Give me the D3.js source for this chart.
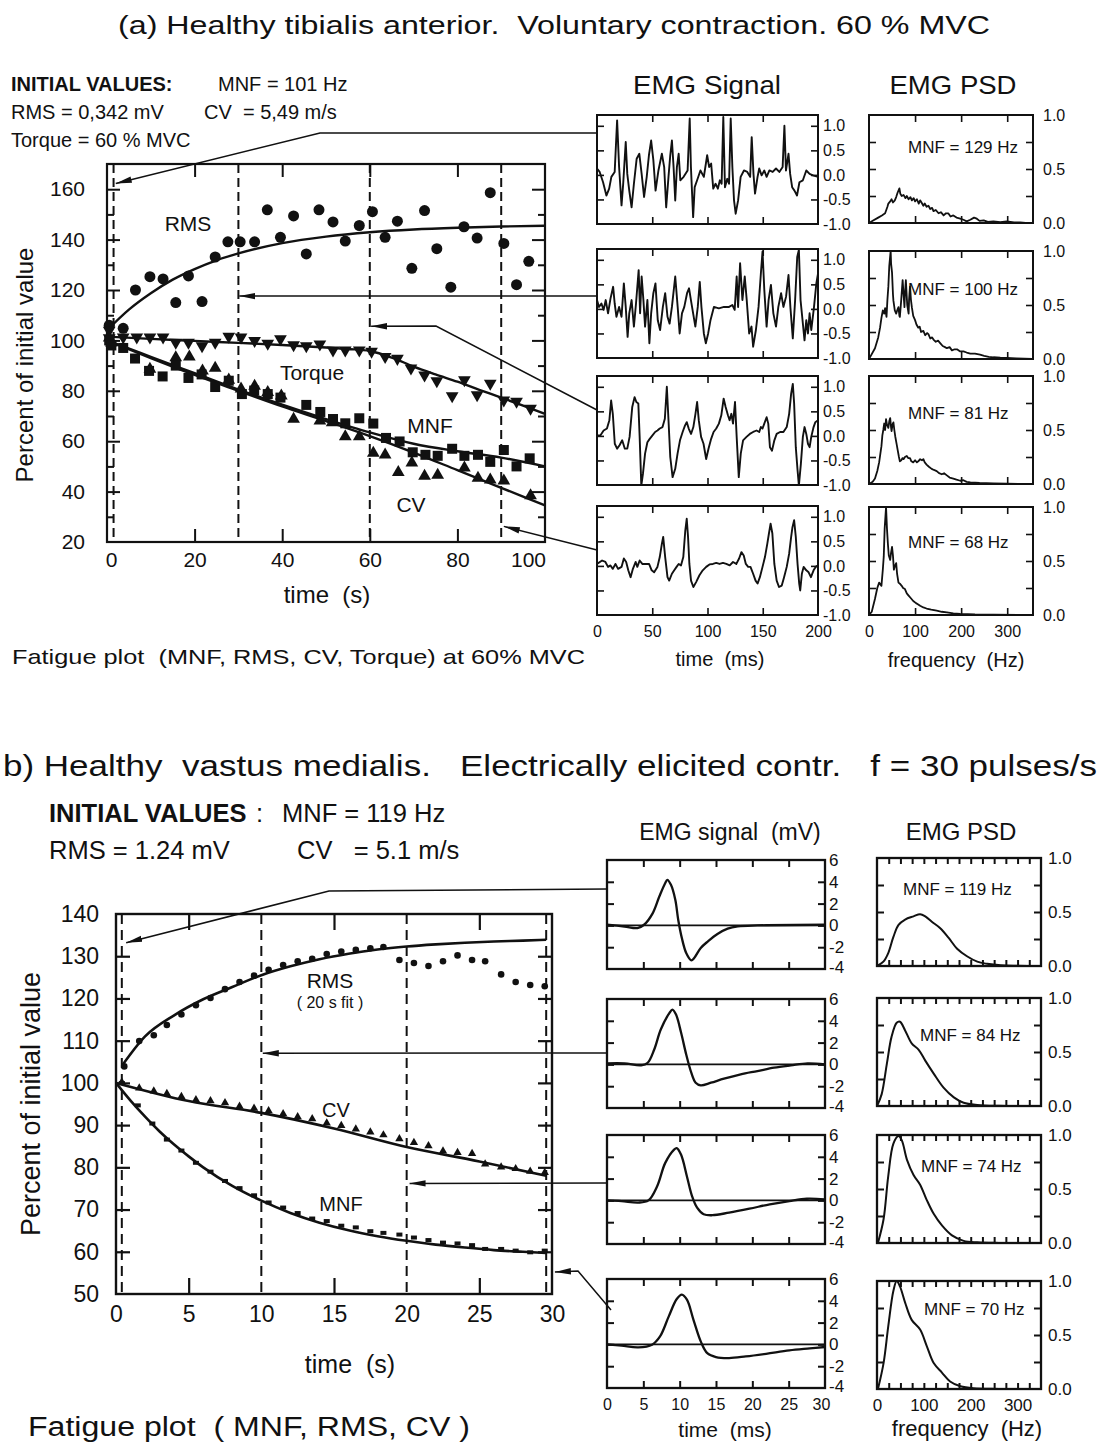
<!DOCTYPE html>
<html><head><meta charset="utf-8">
<script src="https://cdn.jsdelivr.net/npm/d3@7"></script>
<style>
body{margin:0;background:#fff;}
svg text{font-family:"Liberation Sans",Arial,Helvetica,sans-serif;fill:#111;white-space:pre;}
</style></head><body>
<svg id="c" width="1102" height="1446" xmlns="http://www.w3.org/2000/svg"></svg>
<script>
// ================= DATA : panel (a) fatigue plot =================
const aXTicks = [0, 20, 40, 60, 80, 100];
const aYTicks = [20, 40, 60, 80, 100, 120, 140, 160];
const aYMinor = [30, 50, 70, 90, 110, 130, 150];
const aEpochs = [1.5, 30, 60, 90];
const aRms = [[0.5,106],[3.7,104.8],[6.5,120],[9.8,125.3],[12.8,124.4],[15.7,115],[18.6,125.6],[21.7,115.4],[24.7,133.1],[27.6,139.1],[30.4,139.1],[33.7,139.1],[36.6,151.8],[39.6,140.9],[42.6,149.4],[45.5,134.3],[48.4,151.8],[51.6,147],[54.4,139.4],[57.6,145.6],[60.6,151.1],[63.5,140.9],[66.3,147.3],[69.6,128.6],[72.5,151.5],[75.3,136.4],[78.5,121.1],[81.5,145.1],[84.5,140.6],[87.5,158.6],[90.6,138.5],[93.5,122.1],[96.3,131.4]];
const aRmsFit = [[0,104],[5,112.2],[10,118.7],[15,124.1],[20,128.3],[25,131.8],[30,134.5],[40,138.6],[50,141.2],[60,142.9],[70,144],[80,144.7],[90,145.2],[100,145.5]];
const aTorque = [[0.5,104],[0.5,101],[3.7,101.3],[6.8,101.3],[9.8,101.3],[12.8,101.3],[15.7,99.2],[18.6,99.2],[21.7,97.8],[24.7,99.2],[27.8,101.6],[30.6,101.3],[33.7,99.9],[36.7,98.8],[39.6,100.6],[42.6,98.2],[45.5,97.8],[48.6,98.5],[51.6,96.1],[54.4,96.1],[57.6,96.1],[60.4,95.6],[63.5,93.5],[66.3,92.8],[69.4,89.0],[72.5,86.2],[75.3,83.9],[78.8,78.0],[81.6,84.3],[84.5,78.4],[87.5,82.9],[90.6,76.3],[93.5,75.8],[96.7,73.0]];
const aTorqueFit = [[0,101.5],[10,100.6],[20,99.8],[30,99],[40,98.2],[50,97.2],[55,96.6],[60,95.8],[65,93.2],[70,89.6],[75,86.5],[80,83.6],[85,80.4],[90,77.3],[95,74.1],[100,70.8]];
const aMnf = [[0.5,100],[1,98],[3.7,97],[6.4,92.8],[9.6,87.9],[12.7,85.7],[15.7,90],[18.6,85.1],[21.6,86.5],[24.7,81.5],[27.8,84.0],[30.8,78.7],[33.6,80.1],[36.7,78.7],[39.6,77.3],[45.5,74.4],[48.7,71.6],[51.6,68.8],[54.4,67.1],[57.6,69.1],[60.8,67.0],[63.7,61.3],[66.8,59.9],[69.8,55.6],[72.7,54.6],[75.5,54.2],[78.8,57.0],[81.6,54.2],[84.7,54.6],[87.5,51.8],[90.6,56.5],[93.5,50.0],[96.5,53.2]];
const aMnfFit = [[0,100],[10,93.5],[20,87],[30,80.5],[40,74.5],[50,68.8],[60,63.5],[70,59],[80,56],[90,53.5],[100,50]];
const aCv = [[0.5,101],[1,99],[9.8,88.6],[15.7,93.2],[18.8,93.5],[21.8,87.9],[24.7,89],[27.8,84.3],[30.6,80.8],[33.7,81.9],[36.7,79.4],[39.8,78.0],[42.6,68.8],[48.6,68.1],[51.4,67.4],[54.4,61.8],[57.6,61.8],[60.8,55.3],[63.5,54.6],[66.5,47.6],[69.6,51.4],[72.5,46.2],[75.5,46.6],[81.6,49.4],[84.7,45.4],[87.5,44.7],[90.6,44.3],[96.7,38.4]];
const aCvFit = [[0,100],[10,93],[20,86.3],[30,80],[40,73.8],[50,68],[60,62],[70,55.5],[80,48.5],[90,41.5],[100,34.5]];

// ================= DATA : panel (a) EMG signals (normalised) =================
const aSigXTicks = [0, 50, 100, 150, 200];
const aSigYTicks = [-1, -0.5, 0, 0.5, 1];
const aSig1 = [[0,0.13],[2.4,0.06],[5.5,-0.15],[8.5,-0.42],[11,-0.28],[13,-0.04],[16,0.06],[18.2,1.11],[20,0.16],[22.2,-0.62],[23.7,-0.18],[26,0.67],[27.4,0.02],[29.2,-0.32],[31.3,-0.66],[33.4,-0.18],[35.9,0.33],[38.3,0.43],[40.4,0.02],[42.6,-0.45],[45,-0.04],[47,0.4],[49,0.7],[51,0.3],[53,-0.32],[55.6,0.09],[58.7,0.43],[60.8,0.16],[62.6,-0.66],[64.7,-0.04],[66.3,0.4],[67.8,0.7],[69.3,0.16],[70.8,-0.52],[72.3,0.16],[73.9,0.43],[75.4,-0.11],[78.4,-0.04],[82,0.09],[83.9,1.15],[85,0.16],[87,-0.86],[88.4,-0.25],[90.6,-0.11],[93.6,0.09],[96.7,-0.04],[99.7,0.4],[101.5,0.16],[103.3,0.23],[105.2,-0.28],[107.3,-0.18],[109.4,-0.28],[111.2,-0.11],[112.8,-0.18],[114.3,1.18],[115.8,-0.25],[117.9,-0.08],[119.5,-0.18],[121,1.15],[122.5,0.16],[124,-0.52],[125.5,-0.79],[127.7,-0.52],[130,-0.04],[133,0.09],[136,0.06],[138.6,-0.04],[140,0.77],[141.6,0.02],[143,-0.38],[145.3,-0.04],[146.8,0.13],[149,-0.01],[151.4,0.09],[153.5,-0.04],[156,0.09],[159,0.06],[162,0.13],[165,0.06],[168,0.16],[169.6,1.0],[171,0.09],[173.3,0.43],[174.8,0.02],[176.6,-0.25],[178.7,-0.32],[181,-0.42],[183.2,-0.15],[186.3,-0.11],[189.4,0.09],[192.4,0.02],[195.4,-0.01],[200,-0.04]];
const aSig2 = [[0,0.18],[1.8,0.04],[4,0.11],[6,-0.02],[7.9,0.18],[10,-0.09],[12.2,0.21],[14.6,0.45],[16,0.11],[17.6,-0.16],[20,0.04],[22.2,-0.16],[24.3,0.52],[26,0.04],[27.7,-0.57],[29.2,-0.09],[31.3,0.18],[33.4,-0.36],[35.3,0.11],[37.7,0.79],[39,-0.09],[40.4,0.66],[42,0.18],[43.5,-0.36],[45.6,0.18],[47.4,-0.7],[49,-0.09],[51,0.32],[52.9,0.52],[55,-0.23],[57.1,-0.43],[59.6,0.04],[61.7,0.32],[63.8,-0.16],[65.7,-0.3],[67.8,0.04],[70.8,0.66],[73,0.04],[74.8,-0.5],[76.9,-0.09],[79,0.04],[81.5,0.32],[83.3,0.42],[85,0.18],[87,-0.09],[89,-0.36],[91.2,0.04],[93,0.55],[94.5,0.04],[96.7,-0.5],[98.5,-0.7],[100.6,-0.5],[102.7,-0.23],[105.8,0.04],[110.3,0.01],[114.9,0.04],[119.5,0.04],[122.5,0.08],[124.6,-0.02],[126.4,0.66],[127.7,0.04],[129.5,0.93],[131.6,0.18],[133.7,0.66],[135.5,0.18],[137.7,-0.5],[139.8,-0.36],[141.3,-0.77],[143.8,-0.43],[146.2,0.04],[148.3,0.72],[149.8,1.17],[151.4,0.39],[153.5,-0.36],[155.3,0.18],[157.4,0.49],[159.6,-0.09],[162,-0.36],[164.1,0.04],[166.6,0.32],[168.7,0.04],[171.1,0.25],[173.3,0.69],[175,0.04],[177.2,-0.6],[179.3,0.18],[181.2,1.06],[182.7,1.2],[184.2,0.18],[185.7,-0.16],[187.8,-0.64],[189.4,-0.23],[190.9,-0.5],[192.4,-0.09],[193.9,-0.43],[196.4,0.04],[198.5,0.52],[200,0.72]];
const aSig3 = [[0,0.01],[3,0.01],[6,0.11],[9,0.15],[11.2,0.32],[12.8,0.72],[14.3,0.45],[16.1,-0.16],[18.2,-0.26],[20.4,-0.19],[22.8,-0.09],[25.2,-0.26],[27.4,-0.26],[29.5,-0.02],[31.9,0.59],[34,0.79],[35.6,0.69],[37.4,0.66],[38.6,-0.02],[40.1,-1.01],[41.6,-0.77],[43.5,-0.36],[45.6,-0.13],[47.7,-0.06],[50.2,0.01],[52.6,0.08],[54.7,0.11],[56.8,0.15],[59.3,0.18],[61.4,0.35],[63.2,1.0],[64.7,0.32],[66.3,-0.43],[68.4,-0.84],[70.8,-0.67],[72.9,-0.36],[75.1,-0.09],[77.5,0.08],[79.6,0.21],[81.2,0.28],[83,0.15],[85.1,0.04],[87.2,0.18],[89.1,0.45],[90.6,0.69],[92.1,0.32],[94.2,-0.02],[96.4,-0.16],[98.8,-0.47],[100.9,-0.26],[103.3,-0.06],[105.5,0.08],[107.9,0.15],[110.3,0.25],[112.5,0.42],[114.6,0.76],[116.4,0.59],[118.5,0.42],[120,0.32],[121.6,0.45],[123.1,0.25],[124.9,0.69],[126.4,-0.02],[128.3,-0.84],[130.1,-0.36],[132.2,-0.09],[135.3,-0.02],[138.3,0.04],[141.3,0.08],[144.4,0.11],[146.8,0.08],[148.3,0.18],[149.8,0.15],[151.4,0.25],[153.5,0.38],[155,0.25],[156.5,-0.23],[158.4,-0.3],[160.5,-0.09],[162.6,0.04],[165.7,0.08],[168.7,0.08],[171.7,0.18],[173.9,0.45],[175.7,0.86],[177.2,1.06],[178.4,0.66],[179.9,-0.23],[181.5,-0.7],[182.7,-1.01],[184.5,-0.57],[186.3,-0.02],[187.8,0.18],[189.4,0.04],[190.9,-0.16],[192.4,-0.23],[193.9,-0.02],[196,0.18],[197.6,0.28],[200,0.32]];
const aSig4 = [[0,0.04],[4.6,0.11],[7.6,0.08],[10,-0.02],[12.2,0.01],[14.3,-0.06],[16.7,0.04],[19.1,-0.06],[22.2,-0.02],[24.3,0.15],[26.4,0.08],[28.3,-0.09],[30.4,-0.23],[32.5,-0.06],[35,0.08],[36.5,-0.02],[38.6,0.11],[41,0.04],[44,0.04],[47.1,0.04],[49.5,-0.09],[51.7,-0.13],[54.7,-0.02],[56.8,0.18],[58.7,0.45],[59.9,0.59],[61.7,0.18],[63.8,-0.23],[65.3,-0.3],[67.8,-0.16],[69.9,-0.09],[72,-0.02],[73.9,0.04],[76,0.01],[78.1,0.18],[79.9,0.72],[81.2,0.96],[82.4,0.59],[83.6,0.04],[85.1,-0.3],[87.2,-0.43],[89.7,-0.33],[92.7,-0.19],[95.7,-0.09],[98.8,-0.02],[101.8,0.03],[104.9,0.04],[107.9,0.06],[110.9,0.04],[114,0.06],[117,0.04],[120.1,0.01],[123.1,0.08],[126.1,0.04],[128.6,0.15],[130.7,0.28],[132.8,0.21],[134.7,0.04],[136.8,-0.02],[138.9,-0.02],[141.3,-0.16],[143.5,-0.3],[145.3,-0.36],[147.4,-0.23],[149.8,-0.02],[152,0.18],[154.1,0.45],[155.6,0.66],[157.1,0.86],[158.7,0.66],[160.5,0.04],[162.6,-0.3],[164.7,-0.43],[167.2,-0.4],[169.3,-0.23],[171.7,-0.02],[173.9,0.25],[175.7,0.59],[176.9,0.79],[178.4,0.93],[179.9,0.59],[181.5,0.04],[183,-0.36],[183.9,-0.5],[185.4,-0.16],[187,-0.02],[189.4,-0.09],[191.5,-0.13],[193.6,-0.23],[196,-0.09],[197.9,-0.02],[200,0.01]];

// ================= DATA : panel (a) PSD =================
const aPsdXTicks = [0, 100, 200, 300];
const aPsdYTicks = [0, 0.5, 1];
const aPsdMnf = ["MNF = 129 Hz", "MNF = 100 Hz", "MNF = 81 Hz", "MNF = 68 Hz"];
const aPsd1 = [[0,0],[8,0.02],[20,0.05],[28,0.07],[35,0.09],[40,0.15],[42,0.18],[46,0.2],[49,0.22],[52,0.19],[56,0.21],[59,0.24],[62,0.28],[66,0.32],[68,0.27],[71,0.25],[75,0.26],[79,0.23],[82,0.25],[86,0.22],[90,0.24],[93,0.21],[97,0.23],[100,0.2],[104,0.22],[108,0.18],[111,0.21],[114,0.19],[118,0.16],[121,0.18],[125,0.15],[129,0.16],[133,0.13],[137,0.14],[140,0.11],[145,0.12],[151,0.09],[156,0.1],[162,0.07],[167,0.09],[172,0.09],[177,0.06],[183,0.07],[190,0.05],[198,0.04],[205,0.03],[212,0.015],[220,0.03],[228,0.05],[234,0.04],[240,0.02],[249,0.025],[258,0.01],[270,0.015],[285,0.008],[299,0.015],[315,0.005],[328,0.006],[340,0.002],[354,0]];
const aPsd2 = [[0,0],[13,0.1],[20,0.2],[24,0.29],[27,0.38],[30,0.45],[33,0.42],[35,0.47],[38,0.39],[40,0.55],[42,0.67],[44,0.86],[47,1.0],[48,0.88],[50,0.8],[52,0.6],[53,0.54],[56,0.45],[59,0.42],[62,0.46],[64,0.48],[66,0.4],[67,0.39],[70,0.55],[73,0.73],[75,0.6],[77,0.48],[78,0.6],[80,0.73],[83,0.5],[86,0.42],[87,0.55],[89,0.67],[91,0.55],[93,0.48],[96,0.4],[100,0.36],[103,0.32],[107,0.29],[110,0.3],[113,0.25],[118,0.26],[122,0.22],[126,0.24],[129,0.23],[133,0.19],[137,0.2],[140,0.18],[145,0.16],[150,0.17],[154,0.15],[160,0.12],[165,0.11],[169,0.1],[175,0.11],[180,0.08],[186,0.09],[191,0.09],[198,0.07],[205,0.07],[212,0.06],[220,0.05],[230,0.05],[241,0.04],[250,0.03],[260,0.02],[270,0.016],[285,0.012],[299,0.01],[320,0.005],[354,0]];
const aPsd3 = [[0,0],[8,0.02],[13,0.05],[18,0.12],[22,0.2],[24,0.26],[27,0.35],[29,0.45],[31,0.5],[33,0.56],[35,0.5],[37,0.6],[39,0.55],[42,0.52],[44,0.58],[46,0.61],[48,0.52],[49,0.49],[51,0.55],[53,0.57],[55,0.5],[57,0.44],[60,0.37],[62,0.32],[65,0.25],[67,0.21],[70,0.22],[73,0.24],[75,0.23],[78,0.25],[82,0.26],[85,0.24],[89,0.24],[92,0.21],[96,0.2],[100,0.22],[104,0.2],[107,0.21],[111,0.23],[115,0.22],[118,0.23],[121,0.2],[125,0.18],[130,0.16],[136,0.14],[141,0.13],[147,0.12],[152,0.1],[158,0.09],[163,0.1],[169,0.08],[175,0.06],[183,0.05],[190,0.04],[198,0.03],[205,0.035],[212,0.02],[220,0.015],[240,0.01],[270,0.006],[300,0.003],[354,0]];
const aPsd4 = [[0,0],[6,0.03],[13,0.15],[18,0.25],[22,0.3],[25,0.28],[27,0.27],[30,0.42],[32,0.54],[34,0.8],[37,1.0],[39,0.8],[41,0.66],[43,0.55],[46,0.51],[48,0.58],[50,0.63],[52,0.55],[54,0.42],[56,0.45],[59,0.48],[61,0.38],[64,0.3],[67,0.29],[71,0.27],[74,0.25],[78,0.24],[82,0.2],[86,0.18],[90,0.16],[96,0.13],[102,0.11],[106,0.1],[111,0.085],[118,0.07],[125,0.06],[135,0.05],[147,0.04],[158,0.03],[169,0.025],[183,0.015],[198,0.01],[230,0.005],[270,0.003],[354,0]];

// ================= DATA : panel (b) fatigue plot =================
const bXTicks = [0, 5, 10, 15, 20, 25, 30];
const bYTicks = [50, 60, 70, 80, 90, 100, 110, 120, 130, 140];
const bEpochs = [0.4, 10, 20, 29.6];
const bRms = [[0.57,103.9],[1.6,109.9],[2.6,111.3],[3.5,113.7],[4.5,116.2],[5.5,118.4],[6.5,120.1],[7.5,122.2],[8.5,123.9],[9.5,125.4],[10.5,126.8],[11.5,127.9],[12.5,128.8],[13.5,129.4],[14.5,130.5],[15.5,131.1],[16.5,131.5],[17.5,131.9],[18.4,132.2],[19.5,129.1],[20.5,128.4],[21.5,127.7],[22.5,128.8],[23.5,130.2],[24.5,129.1],[25.4,128.8],[26.5,125.7],[27.5,123.9],[28.5,123.2],[29.5,122.9]];
const bRmsFit = [[0.4,104],[2,111],[4,116],[6,119.8],[8,122.7],[10,125.5],[12,127.6],[14,129.3],[16,130.6],[18,131.6],[20,132.3],[22,132.8],[24,133.2],[26,133.5],[28,133.7],[29.6,133.9]];
const bCv = [[0.4,99.7],[1.6,98.3],[2.6,97.6],[3.5,97.0],[4.5,96.3],[5.5,95.5],[6.5,95.3],[7.5,94.8],[8.5,94.0],[9.5,93.5],[10.5,92.9],[11.5,92.2],[12.5,91.5],[13.5,91.0],[14.5,90.0],[15.5,89.4],[16.5,88.6],[17.5,87.9],[18.4,87.2],[19.5,86.3],[20.5,85.4],[21.5,84.6],[22.5,83.4],[23.5,83.0],[24.5,82.8],[25.4,80.3],[26.5,79.6],[27.5,79.2],[28.5,78.6],[29.5,78.3]];
const bCvFit = [[0,100],[5,95.7],[10,92.9],[15,89.2],[20,84.8],[25,81.4],[29.6,78]];
const bMnf = [[0.4,99.5],[1.5,94.2],[2.5,89.9],[3.5,86.1],[4.5,83.5],[5.5,80.6],[6.5,78.5],[7.5,76.3],[8.5,74.6],[9.5,72.9],[10.5,71.2],[11.5,70],[12.5,68.7],[13.5,67.4],[14.5,66.8],[15.5,65.7],[16.5,65.3],[17.5,64.4],[18.4,64],[19.5,63.6],[20.5,62.9],[21.5,62.3],[22.5,61.7],[23.5,61.5],[24.5,61.1],[25.4,60.2],[26.5,60.2],[27.5,59.8],[28.5,59.4],[29.5,59.8]];
const bMnfFit = [[0,100],[1,95.8],[2,92],[3,88.5],[4,85.4],[5,82.6],[6,80],[8,75.6],[10,72.1],[12,69.2],[14,66.9],[16,65.1],[18,63.7],[20,62.6],[22,61.7],[24,61],[26,60.4],[28,60],[29.6,59.7]];

// ================= DATA : panel (b) EMG signals (mV) =================
const bSigXTicks = [0, 5, 10, 15, 20, 25, 30];
const bSigYTicks = [-4, -2, 0, 2, 4, 6];
const bSig1 = [[0,0.06],[2.4,-0.1],[4.2,-0.24],[5.1,0.06],[6.3,1.13],[7.2,2.65],[8,3.87],[8.3,4.18],[8.8,3.72],[9.4,2.35],[9.8,0.52],[10.3,-1.16],[10.9,-2.53],[11.6,-3.2],[12,-2.99],[12.9,-2.07],[13.9,-1.46],[15.2,-0.79],[16.6,-0.3],[18,-0.09],[20.7,0],[30,0.06]];
const bSig2 = [[0,0.09],[2.4,0.09],[4.7,-0.09],[5.6,0.15],[6.5,1.37],[7.4,3.2],[8.6,4.73],[9,5.03],[9.5,4.57],[10.2,2.9],[10.9,0.91],[11.6,-0.76],[12.2,-1.68],[12.9,-1.92],[14.3,-1.68],[16.1,-1.31],[18.4,-0.91],[20.7,-0.61],[23,-0.3],[25.3,-0.09],[27.6,0.09],[30,0]];
const bSig3 = [[0,0],[2,-0.06],[4.3,-0.2],[5.7,0],[6.9,1.3],[8,3.42],[9.2,4.64],[9.6,4.8],[10.2,4.18],[11,2.2],[11.7,0.4],[12.4,-0.67],[13.3,-1.27],[14.5,-1.36],[16.8,-1.12],[19.6,-0.76],[22.4,-0.36],[25.1,-0.06],[27.5,0.15],[30,0.09]];
const bSig4 = [[0,0],[2,-0.12],[4.3,-0.28],[6.2,-0.03],[7.3,0.73],[8.5,2.57],[9.6,4.16],[10.3,4.56],[11,4.1],[11.9,2.26],[12.9,0.28],[13.8,-0.8],[15,-1.16],[16.8,-1.25],[19.1,-1.1],[21.9,-0.86],[25.1,-0.55],[27.9,-0.37],[30,-0.24]];

// ================= DATA : panel (b) PSD =================
const bPsdXTicks = [0, 100, 200, 300];
const bPsdMinor = [25, 50, 75, 100, 125, 150, 175, 200, 225, 250, 275, 300, 325];
const bPsdMnf = ["MNF = 119 Hz", "MNF = 84 Hz", "MNF = 74 Hz", "MNF = 70 Hz"];
const bPsd1 = [[0,0],[13.6,0.04],[24,0.12],[35,0.27],[46,0.38],[60,0.43],[78,0.46],[92,0.48],[103,0.46],[117,0.41],[135,0.35],[153,0.26],[171,0.16],[192,0.09],[214,0.04],[235,0.02],[264,0.006],[300,0.002],[348,0]];
const bPsd2 = [[0,0],[10,0.11],[21,0.39],[31,0.64],[42,0.77],[49,0.78],[60,0.7],[74,0.58],[89,0.52],[103,0.42],[121,0.3],[142,0.17],[164,0.08],[185,0.03],[214,0.01],[260,0.002],[348,0]];
const bPsd3 = [[2,0],[14,0.22],[24,0.62],[35,0.92],[46,0.99],[53,0.95],[64,0.77],[78,0.63],[92,0.54],[106,0.4],[121,0.27],[139,0.16],[160,0.07],[185,0.02],[214,0.006],[260,0.001],[350,0]];
const bPsd4 = [[2,0],[14,0.24],[24,0.58],[35,0.91],[42,1.0],[49,0.95],[60,0.8],[74,0.64],[92,0.55],[106,0.4],[121,0.24],[139,0.15],[156,0.07],[178,0.025],[206,0.006],[260,0.001],[350,0]];

// ================= DRAWING =================
const INK = "#111";
const fmt1 = d => d.toFixed(1);
const fmt0 = d => String(d);
const svg = d3.select("#c");
svg.append("rect").attr("width", 1102).attr("height", 1446).attr("fill", "#fff");
const defs = svg.append("defs");
defs.append("marker").attr("id", "ah").attr("viewBox", "0 0 16 8").attr("refX", 16).attr("refY", 4)
  .attr("markerWidth", 16).attr("markerHeight", 8).attr("orient", "auto").attr("markerUnits", "userSpaceOnUse")
  .append("path").attr("d", "M0,0.8 L16,4 L0,7.2 Z").attr("fill", INK);

function txt(x, y, s, size, opt = {}) {
  const t = svg.append("text").attr("x", x).attr("y", y).attr("font-size", size).text(s);
  if (opt.anchor) t.attr("text-anchor", opt.anchor);
  if (opt.bold) t.attr("font-weight", "bold");
  if (opt.len) t.attr("textLength", opt.len).attr("lengthAdjust", "spacingAndGlyphs");
  if (opt.rot) t.attr("transform", `rotate(-90,${x},${y})`);
  return t;
}

function mkAxis(g, side, scale, at, values, len, opt = {}) {
  const f = { top: d3.axisTop, bottom: d3.axisBottom, left: d3.axisLeft, right: d3.axisRight }[side];
  const ax = f(scale).tickValues(values).tickSizeInner(-len).tickSizeOuter(0)
    .tickPadding(opt.pad ?? 4).tickFormat(opt.fmt || (() => ""));
  const horiz = side === "top" || side === "bottom";
  const gg = g.append("g").attr("transform", horiz ? `translate(0,${at})` : `translate(${at},0)`).call(ax);
  gg.select(".domain").remove();
  gg.selectAll(".tick line").attr("stroke", INK).attr("stroke-width", opt.sw || 1.6);
  gg.attr("font-size", opt.fs || 14);
  return gg;
}

function frame(g, x, y, w, h, sw) {
  g.append("rect").attr("x", x).attr("y", y).attr("width", w).attr("height", h)
    .attr("fill", "none").attr("stroke", INK).attr("stroke-width", sw || 2);
}

let clipN = 0;
function clipFor(x, y, w, h) {
  const id = "cl" + (clipN++);
  defs.append("clipPath").attr("id", id).append("rect").attr("x", x).attr("y", y).attr("width", w).attr("height", h);
  return `url(#${id})`;
}

function arrow(pts) {
  svg.append("path").attr("d", d3.line()(pts)).attr("fill", "none").attr("stroke", INK)
    .attr("stroke-width", 1.5).attr("marker-end", "url(#ah)");
}

// ---------- Panel (a) main ----------
txt(118, 34, "(a) Healthy tibialis anterior.  Voluntary contraction. 60 % MVC", 26, { len: 872 });
txt(11, 91, "INITIAL VALUES:", 20, { bold: true });
txt(218, 91, "MNF = 101 Hz", 20);
txt(11, 119, "RMS = 0,342 mV", 20);
txt(204, 119, "CV  = 5,49 m/s", 20);
txt(11, 147, "Torque = 60 % MVC", 20);

const A = { l: 107, t: 164, r: 545, b: 542 };
const xA = d3.scaleLinear().domain([0, 100]).range([A.l, A.r]);
const yA = d3.scaleLinear().domain([20, 170]).range([A.b, A.t]);
const gA = svg.append("g");
frame(gA, A.l, A.t, A.r - A.l, A.b - A.t, 2.2);
mkAxis(gA, "top", xA, A.t, aXTicks.slice(1, -1), 13, { sw: 2 });
const axAB = mkAxis(gA, "bottom", xA, A.b, aXTicks, 13, { sw: 2, fmt: fmt0, fs: 21, pad: 10 });
axAB.selectAll(".tick line").filter(d => d === 0 || d === 100).remove();
axAB.selectAll(".tick text").attr("dx", d => d === 0 ? 4 : d === 100 ? -17 : 0);
mkAxis(gA, "left", yA, A.l, aYTicks, 13, { sw: 2, fmt: fmt0, fs: 21, pad: 22 })
  .selectAll(".tick line").filter(d => d === 20).remove();
mkAxis(gA, "left", yA, A.l, aYMinor, 7, { sw: 2 });
mkAxis(gA, "right", yA, A.r, aYTicks.slice(1), 13, { sw: 2 });
mkAxis(gA, "right", yA, A.r, aYMinor, 7, { sw: 2 });
gA.selectAll(".ep").data(aEpochs).join("line")
  .attr("x1", d => xA(d)).attr("x2", d => xA(d)).attr("y1", A.t).attr("y2", A.b)
  .attr("stroke", INK).attr("stroke-width", 2).attr("stroke-dasharray", "9,5");
const lnA = d3.line().x(d => xA(d[0])).y(d => yA(d[1])).curve(d3.curveMonotoneX);
[aRmsFit, aTorqueFit, aMnfFit, aCvFit].forEach(s =>
  gA.append("path").attr("d", lnA(s)).attr("fill", "none").attr("stroke", INK).attr("stroke-width", 2.4));
gA.selectAll(".rms").data(aRms).join("circle").attr("cx", d => xA(d[0])).attr("cy", d => yA(d[1])).attr("r", 5.5).attr("fill", INK);
const triA = d3.symbol().type(d3.symbolTriangle).size(70);
gA.selectAll(".tq").data(aTorque).join("path").attr("d", triA)
  .attr("transform", d => `translate(${xA(d[0])},${yA(d[1])}) rotate(180)`).attr("fill", INK);
gA.selectAll(".cv").data(aCv).join("path").attr("d", triA)
  .attr("transform", d => `translate(${xA(d[0])},${yA(d[1])})`).attr("fill", INK);
gA.selectAll(".mnf").data(aMnf).join("rect").attr("x", d => xA(d[0]) - 5).attr("y", d => yA(d[1]) - 5)
  .attr("width", 10).attr("height", 10).attr("fill", INK);
txt(188, 231, "RMS", 21, { anchor: "middle" });
txt(312, 380, "Torque", 21, { anchor: "middle" });
txt(430, 433, "MNF", 21, { anchor: "middle" });
txt(411, 512, "CV", 21, { anchor: "middle" });
txt(33, 365, "Percent of initial value", 24, { anchor: "middle", rot: true });
txt(327, 603, "time  (s)", 24, { anchor: "middle" });
txt(12, 664, "Fatigue plot  (MNF, RMS, CV, Torque) at 60% MVC", 21, { len: 573 });

// ---------- Panel (a) EMG signals ----------
txt(707, 94, "EMG Signal", 25, { anchor: "middle", len: 148 });
const sigA = [aSig1, aSig2, aSig3, aSig4];
const sigATop = [115, 249, 376, 506];
sigA.forEach((s, i) => {
  const x0 = 597, w = 221, h = 109, y0 = sigATop[i];
  const x = d3.scaleLinear().domain([0, 200]).range([x0, x0 + w]);
  const y = d3.scaleLinear().domain([-1, 1.22]).range([y0 + h, y0]);
  const g = svg.append("g");
  g.append("path").attr("d", d3.line().x(d => x(d[0])).y(d => y(d[1]))(s))
    .attr("fill", "none").attr("stroke", INK).attr("stroke-width", 1.9).attr("stroke-linejoin", "round")
    .attr("clip-path", clipFor(x0, y0, w, h));
  frame(g, x0, y0, w, h, 2);
  mkAxis(g, "top", x, y0, [50, 100, 150], 7);
  const bx = mkAxis(g, "bottom", x, y0 + h, i === 3 ? aSigXTicks : [50, 100, 150], 7,
    i === 3 ? { fmt: fmt0, fs: 16, pad: 11 } : {});
  if (i === 3) bx.selectAll(".tick line").filter(d => d === 0 || d === 200).remove();
  mkAxis(g, "left", y, x0, [0.5, 0, -0.5, 1], 7);
  mkAxis(g, "right", y, x0 + w, [0.5, 0, -0.5, 1], 7);
  mkAxis(g, "right", y, x0 + w, aSigYTicks, 0, { fmt: fmt1, fs: 16, pad: 5 });
});
txt(720, 666, "time  (ms)", 20, { anchor: "middle" });

// ---------- Panel (a) PSD ----------
txt(953, 94, "EMG PSD", 25, { anchor: "middle", len: 127 });
const psdA = [aPsd1, aPsd2, aPsd3, aPsd4];
const psdATop = [115, 251, 376, 507];
const psdALab = [32, 38, 37, 35];
psdA.forEach((s, i) => {
  const x0 = 869, w = 164, h = 108, y0 = psdATop[i];
  const x = d3.scaleLinear().domain([0, 356]).range([x0, x0 + w]);
  const y = d3.scaleLinear().domain([0, 1]).range([y0 + h, y0]);
  const g = svg.append("g");
  g.append("path").attr("d", d3.line().x(d => x(d[0])).y(d => y(d[1]))(s))
    .attr("fill", "none").attr("stroke", INK).attr("stroke-width", 1.8).attr("stroke-linejoin", "round")
    .attr("clip-path", clipFor(x0, y0, w, h));
  frame(g, x0, y0, w, h, 2);
  mkAxis(g, "top", x, y0, [100, 200, 300], 7);
  mkAxis(g, "bottom", x, y0 + h, [100, 200, 300], 7);
  if (i === 3) mkAxis(g, "bottom", x, y0 + h, aPsdXTicks, 0, { fmt: fmt0, fs: 16, pad: 11 });
  mkAxis(g, "left", y, x0, [0.25, 0.5, 0.75], 7);
  mkAxis(g, "right", y, x0 + w, [0.25, 0.5, 0.75], 7);
  mkAxis(g, "right", y, x0 + w, aPsdYTicks, 0, { fmt: fmt1, fs: 16, pad: 10 });
  txt(x0 + 39, y0 + psdALab[i] + 6, aPsdMnf[i], 17);
});
txt(956, 667, "frequency  (Hz)", 20, { anchor: "middle" });

// ---------- arrows (a) ----------
arrow([[597, 133], [320, 133], [xA(2), yA(162.3)]]);
arrow([[597, 296], [xA(30.2), yA(117.6)]]);
arrow([[597, 410], [436, 326], [xA(60.3), yA(105.6)]]);
arrow([[597, 550], [xA(90.6), yA(26.2)]]);

// ---------- Panel (b) main ----------
txt(3, 776, "b) Healthy  vastus medialis.   Electrically elicited contr.   f = 30 pulses/s", 29, { len: 1094 });
txt(49, 822, "INITIAL VALUES", 25.5, { bold: true });
txt(256, 822, ":", 25.5);
txt(282, 822, "MNF = 119 Hz", 25.5);
txt(49, 859, "RMS = 1.24 mV", 25.5);
txt(297, 859, "CV   = 5.1 m/s", 25.5);

const B = { l: 116, t: 914, r: 552, b: 1294 };
const xB = d3.scaleLinear().domain([0, 30]).range([B.l, B.r]);
const yB = d3.scaleLinear().domain([50, 140]).range([B.b, B.t]);
const gB = svg.append("g");
frame(gB, B.l, B.t, B.r - B.l, B.b - B.t, 2.4);
mkAxis(gB, "top", xB, B.t, [5, 15, 25], 16, { sw: 2.2 });
mkAxis(gB, "bottom", xB, B.b, [5, 15, 25], 16, { sw: 2.2 });
mkAxis(gB, "bottom", xB, B.b, bXTicks, 0, { fmt: fmt0, fs: 23, pad: 12 });
mkAxis(gB, "left", yB, B.l, bYTicks.slice(1, -1), 14, { sw: 2.2 });
mkAxis(gB, "left", yB, B.l, bYTicks, 0, { fmt: fmt0, fs: 23, pad: 17 });
mkAxis(gB, "right", yB, B.r, bYTicks.slice(1, -1), 14, { sw: 2.2 });
gB.selectAll(".ep").data(bEpochs).join("line")
  .attr("x1", d => xB(d)).attr("x2", d => xB(d)).attr("y1", B.t).attr("y2", B.b)
  .attr("stroke", INK).attr("stroke-width", 2).attr("stroke-dasharray", "10,6");
const lnB = d3.line().x(d => xB(d[0])).y(d => yB(d[1])).curve(d3.curveMonotoneX);
[bRmsFit, bCvFit, bMnfFit].forEach(s =>
  gB.append("path").attr("d", lnB(s)).attr("fill", "none").attr("stroke", INK).attr("stroke-width", 2.6));
gB.selectAll(".rms").data(bRms).join("circle").attr("cx", d => xB(d[0])).attr("cy", d => yB(d[1])).attr("r", 3.3).attr("fill", INK);
const triB = d3.symbol().type(d3.symbolTriangle).size(30);
gB.selectAll(".cv").data(bCv).join("path").attr("d", triB)
  .attr("transform", d => `translate(${xB(d[0])},${yB(d[1]) - 2})`).attr("fill", INK);
gB.selectAll(".mnf").data(bMnf).join("rect").attr("x", d => xB(d[0]) - 3).attr("y", d => yB(d[1]) - 4)
  .attr("width", 6).attr("height", 4).attr("fill", INK);
txt(330, 988, "RMS", 21, { anchor: "middle" });
txt(330, 1008, "( 20 s fit )", 16, { anchor: "middle" });
txt(336, 1117, "CV", 20, { anchor: "middle" });
txt(341, 1211, "MNF", 20, { anchor: "middle" });
txt(40, 1104, "Percent of initial value", 27, { anchor: "middle", rot: true });
txt(350, 1373, "time  (s)", 25, { anchor: "middle" });
txt(28, 1436, "Fatigue plot  ( MNF, RMS, CV )", 27, { len: 442 });

// ---------- Panel (b) EMG signals ----------
txt(730, 840, "EMG signal  (mV)", 23, { anchor: "middle" });
const sigB = [bSig1, bSig2, bSig3, bSig4];
const sigBTop = [860, 999, 1135, 1279];
sigB.forEach((s, i) => {
  const x0 = 607, w = 218, h = 109, y0 = sigBTop[i];
  const x = d3.scaleLinear().domain([0, 30]).range([x0, x0 + w]);
  const y = d3.scaleLinear().domain([-4, 6]).range([y0 + h, y0]);
  const g = svg.append("g");
  g.append("line").attr("x1", x0).attr("x2", x0 + w).attr("y1", y(0)).attr("y2", y(0)).attr("stroke", INK).attr("stroke-width", 1.6);
  g.append("path").attr("d", d3.line().x(d => x(d[0])).y(d => y(d[1])).curve(d3.curveCatmullRom)(s))
    .attr("fill", "none").attr("stroke", INK).attr("stroke-width", 2.3).attr("clip-path", clipFor(x0, y0, w, h));
  frame(g, x0, y0, w, h, 2.3);
  mkAxis(g, "top", x, y0, [5, 10, 15, 20, 25], 7, { sw: 2 });
  mkAxis(g, "bottom", x, y0 + h, [5, 10, 15, 20, 25], 7, { sw: 2 });
  if (i === 3) {
    const bl = mkAxis(g, "bottom", x, y0 + h, bSigXTicks, 0, { fmt: fmt0, fs: 16, pad: 11 });
    bl.selectAll(".tick text").attr("dx", d => d === 30 ? -4 : 0);
  }
  mkAxis(g, "left", y, x0, [-2, 0, 2, 4], 7, { sw: 2 });
  mkAxis(g, "right", y, x0 + w, [-2, 0, 2, 4], 7, { sw: 2 });
  const rl = mkAxis(g, "right", y, x0 + w, bSigYTicks, 0, { fmt: fmt0, fs: 17, pad: 4 });
  rl.selectAll(".tick text").attr("dy", d => d === -4 ? "0.2em" : "0.32em");
});
txt(725, 1437, "time  (ms)", 21, { anchor: "middle" });

// ---------- Panel (b) PSD ----------
txt(961, 840, "EMG PSD", 24, { anchor: "middle" });
const psdB = [bPsd1, bPsd2, bPsd3, bPsd4];
const psdBTop = [858, 998, 1135, 1281];
const psdBLab = [[26, 37], [43, 43], [44, 37], [47, 34]];
psdB.forEach((s, i) => {
  const x0 = 877, w = 164, h = 108, y0 = psdBTop[i];
  const x = d3.scaleLinear().domain([0, 350]).range([x0, x0 + w]);
  const y = d3.scaleLinear().domain([0, 1]).range([y0 + h, y0]);
  const g = svg.append("g");
  g.append("path").attr("d", d3.line().x(d => x(d[0])).y(d => y(d[1])).curve(d3.curveCatmullRom)(s))
    .attr("fill", "none").attr("stroke", INK).attr("stroke-width", 2).attr("clip-path", clipFor(x0, y0, w, h));
  frame(g, x0, y0, w, h, 2.3);
  mkAxis(g, "top", x, y0, bPsdMinor, 6, { sw: 2 });
  mkAxis(g, "bottom", x, y0 + h, bPsdMinor, 6, { sw: 2 });
  if (i === 3) mkAxis(g, "bottom", x, y0 + h, bPsdXTicks, 0, { fmt: fmt0, fs: 17, pad: 10 });
  mkAxis(g, "left", y, x0, [0.25, 0.5, 0.75], 7, { sw: 2 });
  mkAxis(g, "right", y, x0 + w, [0.25, 0.5, 0.75], 7, { sw: 2 });
  mkAxis(g, "right", y, x0 + w, aPsdYTicks, 0, { fmt: fmt1, fs: 17, pad: 7 });
  txt(x0 + psdBLab[i][0], y0 + psdBLab[i][1], bPsdMnf[i], 17);
});
txt(967, 1436, "frequency  (Hz)", 22, { anchor: "middle" });

// ---------- arrows (b) ----------
arrow([[607, 889], [329, 891], [xB(0.7), yB(133.2)]]);
arrow([[607, 1053], [xB(10.1), yB(107)]]);
arrow([[607, 1183], [xB(20.2), yB(76.2)]]);
arrow([[611, 1310], [578, 1271], [xB(30.2), yB(55.2)]]);
</script></body></html>
